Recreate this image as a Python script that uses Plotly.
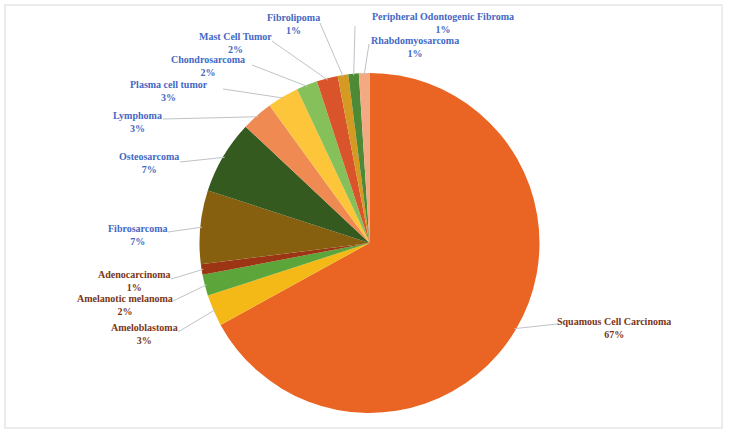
import math
import plotly.graph_objects as go

# ---- data ----
categories = [
    "Squamous Cell Carcinoma", "Ameloblastoma", "Amelanotic melanoma", "Adenocarcinoma",
    "Fibrosarcoma", "Osteosarcoma", "Lymphoma", "Plasma cell tumor", "Chondrosarcoma",
    "Mast Cell Tumor", "Fibrolipoma", "Peripheral Odontogenic Fibroma", "Rhabdomyosarcoma",
]
values = [67, 3, 2, 1, 7, 7, 3, 3, 2, 2, 1, 1, 1]

# ---- styles ----
colors = [
    "#EA6523", "#F4B917", "#5BA53A", "#9C3513",
    "#87600F", "#355A20", "#EE8A52", "#FCC53A", "#86C05A",
    "#D9542A", "#D49A22", "#4E8A36", "#F3A982",
]
label_colors = ["#7A3516"] * 4 + ["#4468C4"] * 9

W, H = 729, 435
CX, CY, R = 369.5, 243.0, 170.0

# label text centres (px) and leader-line anchor points (px)
label_pos = [
    (614, 328), (144, 334), (125, 305), (134, 281),
    (138, 235), (149, 163), (137, 122), (169, 91), (208, 66),
    (235, 43), (293, 24), (443, 23), (415, 47),
]
anchor_pos = [
    (557, 324), (178, 332), (173, 301), (171, 279),
    (168, 232), (180, 162), (163, 119), (223, 89), (252, 65),
    (272, 41), (320, 23), (355, 26), (369, 44),
]


def px(x):
    return x / W


def py(y):
    return 1 - y / H


fig = go.Figure(
    go.Pie(
        labels=categories,
        values=values,
        sort=False,
        direction="clockwise",
        rotation=0,
        marker=dict(colors=colors, line=dict(width=0)),
        textinfo="none",
        hoverinfo="label+percent",
        showlegend=False,
        domain=dict(x=[px(CX - R), px(CX + R)], y=[py(CY + R), py(CY - R)]),
    )
)

total = sum(values)
cum = 0.0
annotations = []
shapes = []
for i, (cat, v) in enumerate(zip(categories, values)):
    mid = (cum + v / 2) / total
    cum += v
    ang = 2 * math.pi * mid
    ex = CX + R * 0.99 * math.sin(ang)
    ey = CY - R * 0.99 * math.cos(ang)
    ax_, ay_ = anchor_pos[i]
    shapes.append(dict(
        type="line", xref="paper", yref="paper",
        x0=px(ax_), y0=py(ay_), x1=px(ex), y1=py(ey),
        line=dict(color="#BFC3C8", width=1),
    ))
    pct = round(100 * v / total)
    lx, ly = label_pos[i]
    annotations.append(dict(
        x=px(lx), y=py(ly), xref="paper", yref="paper",
        text=f"<b>{cat}</b><br><b>{pct}%</b>",
        showarrow=False, xanchor="center", yanchor="middle", align="center",
        font=dict(family="Liberation Serif, Times New Roman, serif", size=10,
                  color=label_colors[i]),
    ))

# outer frame
shapes.append(dict(
    type="rect", xref="paper", yref="paper",
    x0=px(5), y0=py(428), x1=px(722), y1=py(5),
    line=dict(color="#E6E6E6", width=1.5), fillcolor="rgba(0,0,0,0)", layer="below",
))

fig.update_layout(
    width=W, height=H,
    margin=dict(l=0, r=0, t=0, b=0),
    paper_bgcolor="white", plot_bgcolor="white",
    annotations=annotations,
    shapes=shapes,
)

fig.write_html("out.html")
